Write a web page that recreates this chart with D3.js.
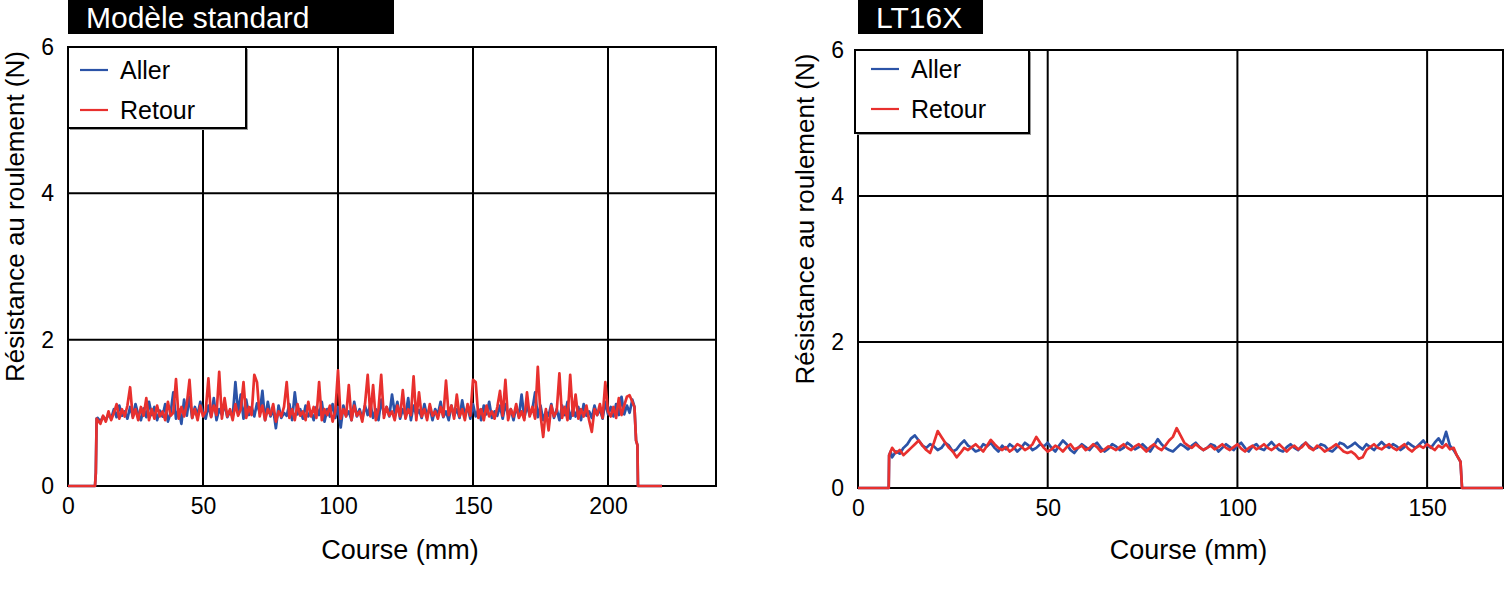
<!DOCTYPE html>
<html>
<head>
<meta charset="utf-8">
<script src="https://cdn.jsdelivr.net/npm/d3@7"></script>
<style>
  body { margin: 0; background: #fff; }
  text { font-family: "Liberation Sans", Arial, sans-serif; }
</style>
</head>
<body>
<div id="chart"></div>
<script>
// ---- data (N, one value per mm of course) ----
const seriesNames = ["Aller", "Retour"];
const yTicks = [0, 2, 4, 6];

// Modèle standard : 11 .. 209 mm
const stdStart = 11;
const stdEdgeIn = [[0, 0], [10, 0], [10.3, 0.18], [10.6, 0.92]];
const stdEdgeOut = [[209.8, 1.08], [210.4, 0.62], [210.9, 0.56], [211.1, 0], [220, 0]];
const stdAller = [
  0.93, 0.88, 0.95, 0.9, 0.98, 0.92, 1.05, 0.94, 1.1, 0.96,
  1.02, 0.92, 1.08, 0.95, 1.12, 0.98, 0.9, 1.06, 0.94, 1.15,
  0.97, 1.08, 0.9, 1.03, 0.95, 1.12, 0.88, 1.0, 1.28, 0.92,
  1.05, 0.85, 1.18, 0.96, 1.22, 0.93, 1.08, 0.97, 1.15, 1.0,
  0.92, 1.1, 0.95, 1.2, 0.9, 1.05, 0.97, 1.12, 0.94, 1.02,
  0.95, 1.42, 1.0, 1.25, 0.92, 1.18, 0.97, 1.08, 0.95, 1.13,
  1.0, 1.3, 0.9, 1.15, 0.95, 1.05, 0.79, 1.1, 0.93, 1.0,
  0.96, 1.12, 0.9, 1.28, 0.98, 1.05, 0.92, 1.1, 0.95, 1.02,
  0.9, 1.08, 0.97, 1.15, 0.88, 1.05, 0.95, 1.12, 0.93, 1.08,
  0.8, 1.1, 0.96, 1.02, 0.9, 1.15, 0.95, 1.05, 0.92, 1.1,
  0.97, 1.12, 0.93, 1.05, 0.9, 1.18, 0.98, 1.08, 0.95, 1.25,
  1.0, 1.15, 0.92, 1.05, 0.96, 1.2, 0.9, 1.1, 0.97, 1.04,
  0.93, 1.12, 0.95, 1.08, 0.9, 1.05, 0.98, 1.15, 0.94, 1.02,
  0.9, 1.1, 0.96, 1.05, 0.93, 1.17, 0.97, 1.08, 0.92, 1.12,
  0.95, 1.05, 0.9, 1.1, 0.98, 1.15, 0.93, 1.02, 0.96, 1.1,
  0.92, 1.12, 0.97, 1.05, 0.9, 1.08, 0.95, 1.25, 0.93, 1.1,
  0.97, 1.05, 1.28, 0.94, 1.1, 0.9, 1.02, 0.96, 1.12, 0.93,
  1.05, 0.9, 1.1, 0.97, 1.15, 0.92, 1.05, 0.95, 1.08, 0.9,
  1.12, 0.96, 1.02, 0.93, 1.1, 0.97, 1.05, 0.92, 1.15, 0.98,
  1.08, 0.95, 1.12, 0.97, 1.22, 0.98, 1.1, 1.0, 1.18
];
const stdRetour = [
  0.9, 0.85, 0.96, 0.88, 1.02, 0.9, 1.0, 1.12, 0.92, 1.05,
  0.95, 1.1, 1.35, 0.93, 1.05, 0.9, 1.08, 0.96, 1.2, 0.9,
  1.05, 0.92, 1.1, 0.95, 1.02, 0.9, 1.15, 0.96, 1.0, 1.46,
  0.92, 1.08, 0.95, 1.12, 1.45, 0.93, 1.05, 0.9, 1.1, 0.95,
  1.02, 1.47, 0.94, 1.1, 0.97, 1.56, 0.92, 1.2, 0.95, 1.05,
  0.9, 1.12, 0.96, 1.05, 1.42, 0.93, 1.08, 0.97, 1.52, 1.42,
  0.95, 1.1, 0.9, 1.05, 0.97, 1.12, 0.88, 1.02, 0.95, 1.08,
  1.42, 0.93, 1.05, 0.9, 1.12, 0.96, 1.02, 0.9, 1.15, 0.95,
  1.08, 0.93, 1.42, 0.9, 1.05, 0.97, 1.1, 0.88, 1.02, 1.58,
  0.92, 1.05, 0.95, 1.38, 0.9, 1.1, 0.96, 1.02, 0.88, 1.12,
  1.52, 0.95, 1.38, 0.9, 1.05, 1.52, 0.93, 1.08, 0.96, 1.02,
  0.9, 1.1, 0.95, 1.31, 0.92, 1.05, 0.97, 1.5, 0.9, 1.28,
  0.95, 1.05, 0.9, 1.12, 0.96, 1.02, 0.92, 1.08, 0.95, 1.44,
  0.97, 1.1, 0.92, 1.25, 0.95, 1.05, 0.9, 1.12, 0.96, 1.45,
  1.42, 0.93, 1.05, 0.9, 1.1, 0.95, 1.02, 0.92, 1.08, 1.3,
  0.96, 1.45, 0.9, 1.05, 0.95, 1.12, 0.93, 1.02, 0.9, 1.28,
  0.95, 1.08, 0.92, 1.63, 0.97, 0.67, 1.05, 0.76, 1.1, 0.95,
  1.02, 1.54, 0.93, 1.08, 0.9, 1.52, 0.96, 1.25, 0.92, 1.05,
  0.95, 1.1, 0.9, 0.74, 1.05, 0.97, 1.12, 0.93, 1.42, 1.02,
  0.95, 1.08, 0.93, 1.2, 0.97, 1.1, 1.22, 1.24, 1.15
];

// LT16X : 9 .. 157 mm
const ltStart = 9;
const ltEdgeIn = [[0, 0], [8.1, 0], [8.2, 0.45], [8.6, 0.5]];
const ltEdgeOut = [[157.8, 0.45], [158.8, 0.36], [159.2, 0], [170, 0]];
const ltAller = [
  0.42, 0.5, 0.47, 0.55, 0.6, 0.68, 0.72, 0.65, 0.58, 0.55,
  0.6, 0.57, 0.52, 0.55, 0.62, 0.58, 0.5, 0.53, 0.6, 0.65,
  0.58, 0.55, 0.5, 0.52, 0.6, 0.57, 0.62, 0.55, 0.5, 0.58,
  0.53, 0.6, 0.56, 0.5, 0.55, 0.62, 0.58, 0.52, 0.55, 0.6,
  0.57, 0.62, 0.55, 0.5, 0.58, 0.65, 0.6, 0.52, 0.48, 0.55,
  0.6, 0.56, 0.52, 0.58, 0.62, 0.55, 0.5, 0.54, 0.6, 0.57,
  0.52, 0.55, 0.62, 0.58, 0.53, 0.56, 0.6, 0.55, 0.5, 0.58,
  0.67, 0.6, 0.55, 0.52, 0.5, 0.55, 0.6, 0.57, 0.53, 0.58,
  0.62, 0.56, 0.52, 0.55, 0.6, 0.58, 0.5, 0.55, 0.6, 0.56,
  0.52, 0.58, 0.62, 0.55, 0.5, 0.57, 0.6, 0.54, 0.52, 0.58,
  0.63, 0.57, 0.52, 0.5, 0.56, 0.6, 0.55, 0.52, 0.58, 0.62,
  0.57, 0.53, 0.55, 0.6, 0.58, 0.52, 0.5, 0.55, 0.62, 0.6,
  0.55, 0.58, 0.62, 0.57, 0.53, 0.6, 0.56, 0.52, 0.58, 0.63,
  0.58, 0.55, 0.6, 0.57, 0.52, 0.56, 0.62, 0.58, 0.55, 0.6,
  0.65, 0.58, 0.55, 0.62, 0.68, 0.6, 0.77, 0.58, 0.52
];
const ltRetour = [
  0.55, 0.48, 0.52, 0.45, 0.5, 0.55, 0.6, 0.65, 0.58, 0.52,
  0.48, 0.62, 0.78, 0.7, 0.62, 0.55, 0.5, 0.42, 0.48, 0.55,
  0.52, 0.56, 0.6, 0.55, 0.5, 0.58, 0.66, 0.6, 0.55, 0.52,
  0.56, 0.5, 0.54, 0.6, 0.57, 0.52, 0.55, 0.6, 0.7, 0.62,
  0.55, 0.5, 0.53, 0.58, 0.55, 0.5, 0.56, 0.6, 0.53, 0.55,
  0.58, 0.52, 0.55, 0.6, 0.56, 0.5, 0.53, 0.57, 0.55, 0.52,
  0.56, 0.6, 0.55, 0.52, 0.57, 0.6, 0.55, 0.5, 0.56, 0.6,
  0.55, 0.52, 0.58, 0.65, 0.7, 0.82, 0.72, 0.62, 0.58, 0.55,
  0.6, 0.56, 0.52, 0.55, 0.58, 0.53, 0.56, 0.6, 0.55, 0.52,
  0.56, 0.6, 0.54, 0.5, 0.55, 0.58, 0.53, 0.56, 0.6, 0.55,
  0.52, 0.56, 0.6, 0.55, 0.5, 0.55, 0.58, 0.53, 0.56, 0.62,
  0.55, 0.52, 0.58, 0.55, 0.5, 0.53, 0.56, 0.6, 0.55, 0.5,
  0.48, 0.5, 0.46, 0.4, 0.42, 0.52, 0.56, 0.6, 0.55, 0.53,
  0.57, 0.6, 0.55, 0.52, 0.56, 0.6, 0.54, 0.5, 0.55, 0.58,
  0.55, 0.6, 0.56, 0.52, 0.58, 0.55, 0.6, 0.53, 0.55
];

const colors = { Aller: "#2b53a7", Retour: "#e8302e" };

// ---- layout ----
const width = 1510, height = 600;
const svg = d3.select("#chart").append("svg")
  .attr("width", width).attr("height", height);

const panels = [
  {
    title: "Modèle standard", titleW: 326,
    left: 68, right: 716, top: 47, bottom: 486,
    xMax: 240, xTicks: [0, 50, 100, 150, 200],
    start: stdStart, edgeIn: stdEdgeIn, edgeOut: stdEdgeOut,
    values: { Aller: stdAller, Retour: stdRetour },
    legend: { x: 68, y: 47, w: 178, h: 81, row0: 23, lx: 12, tx: 52 },
    yLabelX: 15
  },
  {
    title: "LT16X", titleW: 125,
    left: 858, right: 1503, top: 50, bottom: 488,
    xMax: 170, xTicks: [0, 50, 100, 150],
    start: ltStart, edgeIn: ltEdgeIn, edgeOut: ltEdgeOut,
    values: { Aller: ltAller, Retour: ltRetour },
    legend: { x: 855, y: 50, w: 174, h: 83, row0: 19, lx: 16, tx: 56 },
    yLabelX: 805
  }
];

const buildSeries = (p, vals) =>
  p.edgeIn.concat(vals.map((v, i) => [p.start + i, v]), p.edgeOut);

panels.forEach(p => {
  const x = d3.scaleLinear().domain([0, p.xMax]).range([p.left, p.right]);
  const y = d3.scaleLinear().domain([0, 6]).range([p.bottom, p.top]);
  const g = svg.append("g");

  // title box
  g.append("rect").attr("x", p.left).attr("y", 0)
    .attr("width", p.titleW).attr("height", 34).attr("fill", "#000");
  g.append("text").attr("x", p.left + 18).attr("y", 28)
    .attr("fill", "#fff").attr("font-size", 30).text(p.title);

  // grid
  g.selectAll(".vgrid").data(p.xTicks.filter(t => t > 0)).enter()
    .append("line")
    .attr("x1", d => x(d)).attr("x2", d => x(d))
    .attr("y1", p.top).attr("y2", p.bottom)
    .attr("stroke", "#000").attr("stroke-width", 2);
  g.selectAll(".hgrid").data(yTicks.filter(t => t > 0 && t < 6)).enter()
    .append("line")
    .attr("x1", p.left).attr("x2", p.right)
    .attr("y1", d => y(d)).attr("y2", d => y(d))
    .attr("stroke", "#000").attr("stroke-width", 2);

  // frame
  g.append("rect").attr("x", p.left).attr("y", p.top)
    .attr("width", p.right - p.left).attr("height", p.bottom - p.top)
    .attr("fill", "none").attr("stroke", "#000").attr("stroke-width", 2);

  // axes (tick labels only)
  const xAxis = g.append("g").attr("transform", `translate(0,${p.bottom})`)
    .call(d3.axisBottom(x).tickValues(p.xTicks).tickFormat(d3.format("d"))
      .tickSize(0).tickPadding(12));
  const yAxis = g.append("g").attr("transform", `translate(${p.left},0)`)
    .call(d3.axisLeft(y).tickValues(yTicks).tickFormat(d3.format("d"))
      .tickSize(0).tickPadding(14));
  [xAxis, yAxis].forEach(a => {
    a.select(".domain").remove();
    a.selectAll("text").attr("font-size", 23).attr("fill", "#000")
      .attr("font-family", "'Liberation Sans', Arial, sans-serif");
  });

  // data (drawn over the frame, as in the original)
  const line = d3.line().x(d => x(d[0])).y(d => y(d[1]));
  seriesNames.forEach(name => {
    g.append("path").datum(buildSeries(p, p.values[name]))
      .attr("d", line).attr("fill", "none")
      .attr("stroke", colors[name]).attr("stroke-width", 2.7)
      .attr("stroke-linejoin", "round");
  });

  // axis titles
  g.append("text").attr("x", (p.left + p.right) / 2 + 8).attr("y", 559)
    .attr("text-anchor", "middle").attr("font-size", 27).text("Course (mm)");
  g.append("text")
    .attr("transform", `translate(${p.yLabelX + 9},${(p.top + p.bottom) / 2 - 50}) rotate(-90)`)
    .attr("text-anchor", "middle").attr("font-size", 26)
    .text("Résistance au roulement (N)");

  // legend
  const L = p.legend;
  const lg = g.append("g").attr("transform", `translate(${L.x},${L.y})`);
  lg.append("rect").attr("x", 2).attr("y", 2).attr("width", L.w).attr("height", L.h)
    .attr("fill", "#999");
  lg.append("rect").attr("width", L.w).attr("height", L.h)
    .attr("fill", "#fff").attr("stroke", "#000").attr("stroke-width", 2);
  seriesNames.forEach((name, i) => {
    const ly = L.row0 + i * 40;
    lg.append("line").attr("x1", L.lx).attr("x2", L.lx + 28).attr("y1", ly).attr("y2", ly)
      .attr("stroke", colors[name]).attr("stroke-width", 2.2);
    lg.append("text").attr("x", L.tx).attr("y", ly + 9)
      .attr("font-size", 25).text(name);
  });
});
</script>
</body>
</html>
